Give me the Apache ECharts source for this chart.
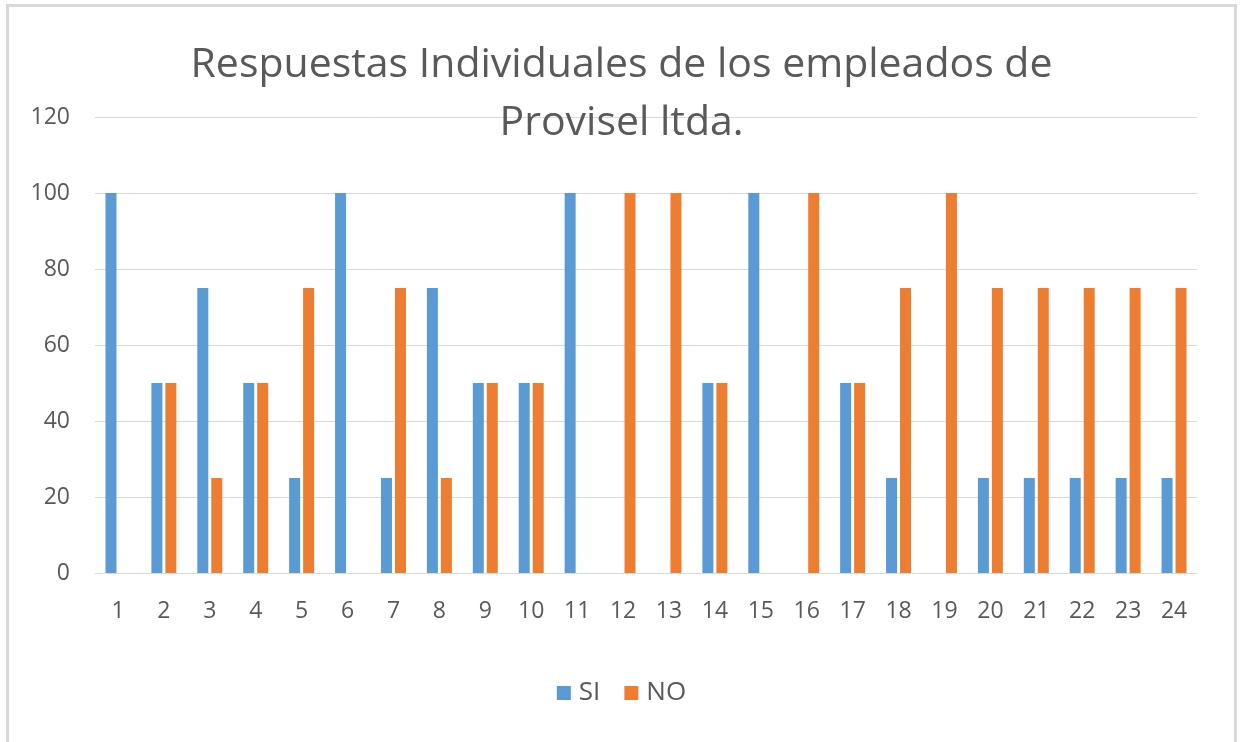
<!DOCTYPE html>
<html>
<head>
<meta charset="utf-8">
<script src="https://cdn.jsdelivr.net/npm/echarts@6/dist/echarts.min.js"></script>
<style>
  html, body { margin: 0; padding: 0; background: #fff; }
  /* marco gris del gráfico */
  .frame {
    position: absolute;
    left: 6px; top: 4px;
    width: 1231px; height: 760px;
    border: 3px solid #d9d9d9;
    box-sizing: border-box;
  }
  #chart { position: absolute; left: 0; top: 0; width: 1243px; height: 742px; }
</style>
</head>
<body>
<div class="frame"></div>
<div id="chart"></div>
<script>
// datos del gráfico
const categorias = ['1','2','3','4','5','6','7','8','9','10','11','12','13','14','15','16','17','18','19','20','21','22','23','24'];
const valoresSI = [100,50,75,50,25,100,25,75,50,50,100,0,0,50,100,0,50,25,0,25,25,25,25,25];
const valoresNO = [0,50,25,50,75,0,75,25,50,50,0,100,100,50,0,100,50,75,100,75,75,75,75,75];
const ticksY = [0, 20, 40, 60, 80, 100, 120];

const chart = echarts.init(document.getElementById('chart'));
const fuente = '"Open Sans", sans-serif';

const option = {
  animation: false,
  title: {
    text: 'Respuestas Individuales de los empleados de\nProvisel ltda.',
    left: 'center',
    top: 31,
    textStyle: {
      fontFamily: fuente,
      fontSize: 41,
      fontWeight: 'normal',
      color: '#595959',
      lineHeight: 58
    }
  },
  legend: {
    bottom: 31,
    left: 'center',
    icon: 'rect',
    itemWidth: 14,
    itemHeight: 14,
    itemGap: 24,
    textStyle: { fontFamily: fuente, fontSize: 26, color: '#595959', padding: [0, 0, 0, 3] },
    data: ['SI', 'NO']
  },
  grid: { left: 95, right: 46, top: 117, bottom: 169 },
  xAxis: {
    type: 'category',
    data: categorias,
    axisTick: { show: false },
    axisLine: { lineStyle: { color: '#d9d9d9', width: 1 } },
    axisLabel: { fontFamily: fuente, fontSize: 23, color: '#595959', margin: 27 }
  },
  yAxis: {
    type: 'value',
    min: ticksY[0],
    max: ticksY[ticksY.length - 1],
    interval: 20,
    axisLine: { show: false },
    axisTick: { show: false },
    axisLabel: { fontFamily: fuente, fontSize: 23, color: '#595959', margin: 25 },
    splitLine: { lineStyle: { color: '#d9d9d9', width: 1 } }
  },
  series: [
    {
      name: 'SI',
      type: 'bar',
      data: valoresSI,
      barWidth: 11,
      barGap: '27%',
      itemStyle: { color: '#5b9bd5' }
    },
    {
      name: 'NO',
      type: 'bar',
      data: valoresNO,
      barWidth: 11,
      itemStyle: { color: '#ed7d31' }
    }
  ]
};
chart.setOption(option);
</script>
</body>
</html>
